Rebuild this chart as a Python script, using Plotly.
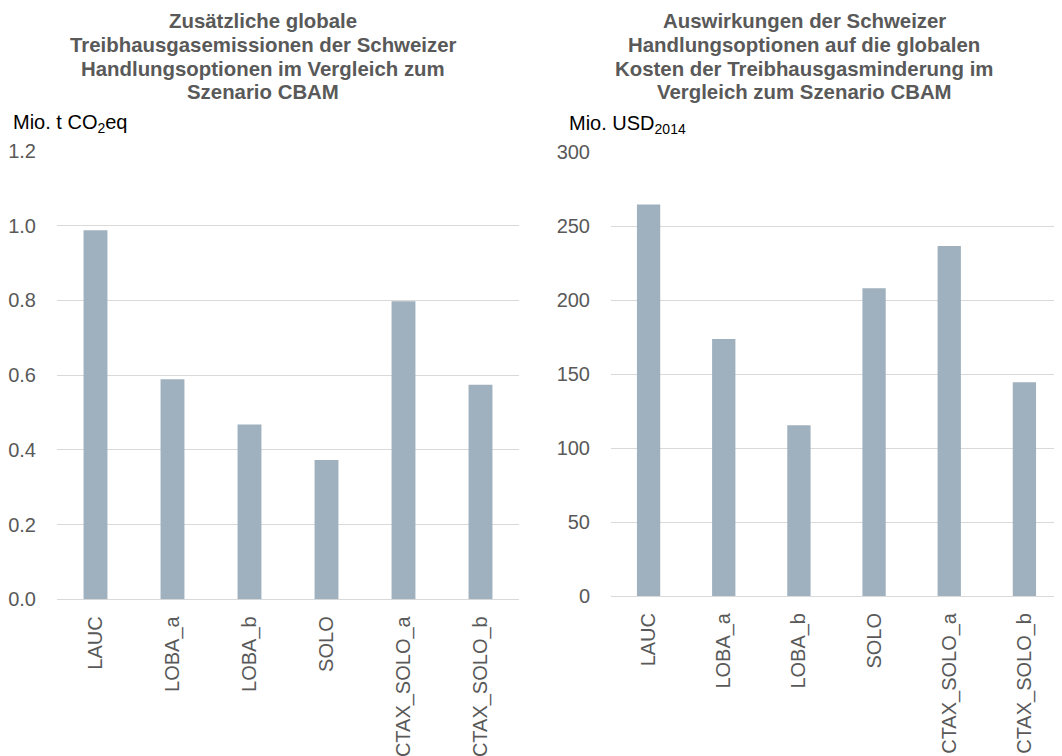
import plotly.graph_objects as go

categories = ["LAUC", "LOBA_a", "LOBA_b", "SOLO", "CTAX_SOLO_a", "CTAX_SOLO_b"]
emissions = [0.988, 0.589, 0.468, 0.373, 0.798, 0.574]
costs = [264.5, 173.6, 115.3, 208.0, 236.5, 144.4]

left_title = ["Zusätzliche globale", "Treibhausgasemissionen der Schweizer",
              "Handlungsoptionen im Vergleich zum", "Szenario CBAM"]
right_title = ["Auswirkungen der Schweizer", "Handlungsoptionen auf die globalen",
               "Kosten der Treibhausgasminderung im", "Vergleich zum Szenario CBAM"]
left_unit = "Mio. t CO<sub>2</sub>eq"
right_unit = "Mio. USD<sub>2014</sub>"

OFF = 8  # page body margin
W, H = 1062 - OFF, 756 - OFF
BAR = "#9FB0BE"
GRID = "#D9D9D9"
TXT = "#595959"
FONT = "Liberation Sans, Arial, sans-serif"

def px_x(x):
    return (x - OFF) / W

def px_y(y):
    return 1 - (y - OFF) / H

fig = go.Figure()
fig.add_trace(go.Bar(x=categories, y=emissions, marker_color=BAR, xaxis="x", yaxis="y",
                     showlegend=False))
fig.add_trace(go.Bar(x=categories, y=costs, marker_color=BAR, xaxis="x2", yaxis="y2",
                     showlegend=False))

xcommon = dict(type="category", tickangle=-90, showgrid=False, showline=False,
               zeroline=False, ticks="outside", ticklen=8, tickcolor="rgba(0,0,0,0)",
               tickfont=dict(size=20, color=TXT, family=FONT), fixedrange=True,
               automargin=False)
ycommon = dict(showgrid=True, gridcolor=GRID, gridwidth=1, zeroline=True,
               zerolinecolor=GRID, zerolinewidth=1, showline=False, ticks="outside",
               ticklen=16, tickcolor="rgba(0,0,0,0)",
               tickfont=dict(size=20, color=TXT, family=FONT), fixedrange=True,
               automargin=False)

annotations = []
ys = [21.3, 45, 68.7, 92.3]
for line, yy in zip(left_title, ys):
    annotations.append(dict(text="<b>" + line + "</b>", x=px_x(263), y=px_y(yy),
                            xref="paper", yref="paper", xanchor="center", yanchor="middle",
                            showarrow=False, font=dict(size=20.4, color=TXT, family=FONT)))
for line, yy in zip(right_title, ys):
    annotations.append(dict(text="<b>" + line + "</b>", x=px_x(804), y=px_y(yy),
                            xref="paper", yref="paper", xanchor="center", yanchor="middle",
                            showarrow=False, font=dict(size=20.4, color=TXT, family=FONT)))
annotations.append(dict(text=left_unit, x=px_x(11), y=px_y(123), xref="paper", yref="paper",
                        xanchor="left", yanchor="middle", showarrow=False,
                        font=dict(size=20, color="black", family=FONT)))
annotations.append(dict(text=right_unit, x=px_x(567), y=px_y(125), xref="paper", yref="paper",
                        xanchor="left", yanchor="middle", showarrow=False,
                        font=dict(size=20, color="black", family=FONT)))

fig.update_layout(
    template="none",
    width=W, height=H,
    margin=dict(l=0, r=0, t=0, b=0, autoexpand=False),
    paper_bgcolor="white", plot_bgcolor="white",
    bargap=0.69,
    font=dict(family=FONT, color=TXT),
    xaxis=dict(domain=[px_x(57), px_x(519)], anchor="y", **xcommon),
    yaxis=dict(domain=[px_y(599.3), px_y(151)], anchor="x", range=[0, 1.2], dtick=0.2,
               tickformat=".1f", **ycommon),
    xaxis2=dict(domain=[px_x(611), 1.0], anchor="y2", **xcommon),
    yaxis2=dict(domain=[px_y(596), px_y(152)], anchor="x2", range=[0, 300], dtick=50,
                **ycommon),
    annotations=annotations,
)

fig.write_html("out.html")
